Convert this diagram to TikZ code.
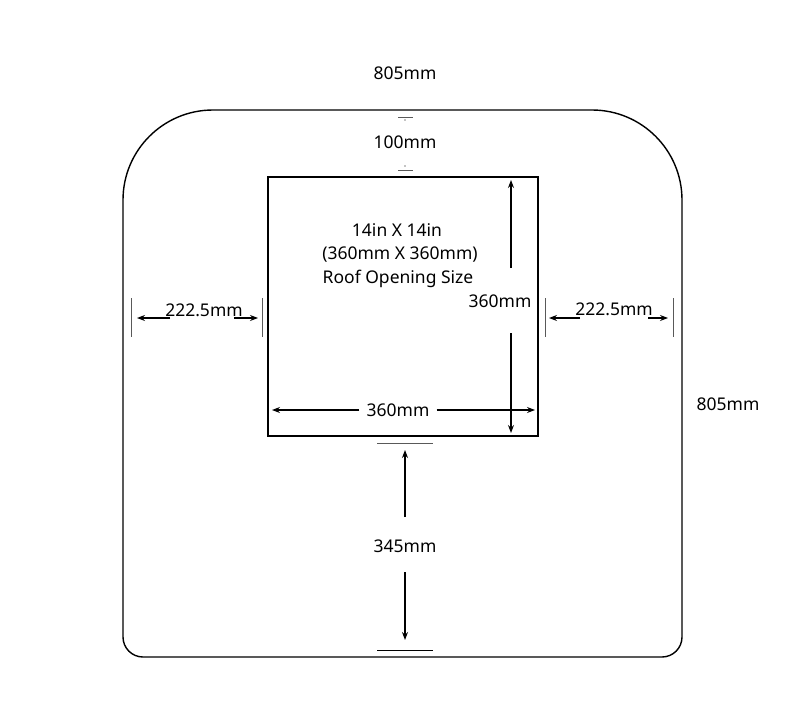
\documentclass[tikz,border=0pt]{standalone}
\usepackage{fontspec}
\setmainfont{Noto Sans}
\usetikzlibrary{arrows.meta}
\begin{document}
\begin{tikzpicture}[x=1pt,y=-1pt,
  lbl/.style={font=\fontsize{17.5}{20}\selectfont, inner sep=1pt},
  dim/.style={-{Stealth[length=8pt,width=6pt]}, line width=1.1pt},
  tick/.style={line width=0.7pt, gray!70!black}]
\useasboundingbox (0,0) rectangle (787,701);
\draw[line width=1.4pt] (123,400) [rounded corners=90pt] -- (123,110) -- (682,110) -- (682,400) [rounded corners=20pt] -- (682,657) -- (123,657) -- (123,400) [sharp corners] -- cycle;
\draw[line width=1.4pt] (268,177) rectangle (538,436);
\node[lbl] (top) at (405,73) {805mm};
\node[lbl] (right) at (728,404) {805mm};
\node[lbl] (t1) at (397,230) {14in X 14in};
\node[lbl] (t2) at (400,255) {(360mm X 360mm)};
\node[lbl] (t3) at (398,279) {Roof Opening Size};
% 100mm
\node[lbl] (h100) at (405,142) {100mm};
\draw[tick] (398,117) -- (413,117); \fill (405,120) circle (0.7);
\draw[tick] (398,170) -- (413,170); \fill (405,166) circle (0.7);
% left 222.5
\draw[tick] (131,298) -- (131,337); \draw[tick] (262,298) -- (262,337);
\node[lbl] (l222) at (204,310) {222.5mm};
\coordinate (la) at (137,318); \coordinate (lb) at (258,318);
\draw[dim] (170,318) -- (la);
\draw[dim] (234,318) -- (lb);
% right 222.5
\draw[tick] (545,298) -- (545,337); \draw[tick] (673,298) -- (673,337);
\node[lbl] (r222) at (614,309) {222.5mm};
\coordinate (ra) at (549,318); \coordinate (rb) at (668,318);
\draw[dim] (580,318) -- (ra);
\draw[dim] (648,318) -- (rb);
% vertical 360
\node[lbl] (v360) at (500,301) {360mm};
\coordinate (va) at (511,180); \coordinate (vb) at (511,433);
\draw[dim] (511,268) -- (va);
\draw[dim] (511,333) -- (vb);
% horizontal 360
\node[lbl] (h360) at (398,410) {360mm};
\coordinate (ha) at (272,410); \coordinate (hb) at (535,410);
\draw[dim] (h360.west) ++(-6,0) -- (ha);
\draw[dim] (h360.east) ++(6,0) -- (hb);
% 345
\draw[tick] (377,443) -- (433,443); \draw[line width=0.9pt] (377,650) -- (433,650);
\node[lbl] (v345) at (405,546) {345mm};
\coordinate (sa) at (405,450); \coordinate (sb) at (405,640);
\draw[dim] (405,517) -- (sa);
\draw[dim] (405,572) -- (sb);
\end{tikzpicture}
\end{document}
